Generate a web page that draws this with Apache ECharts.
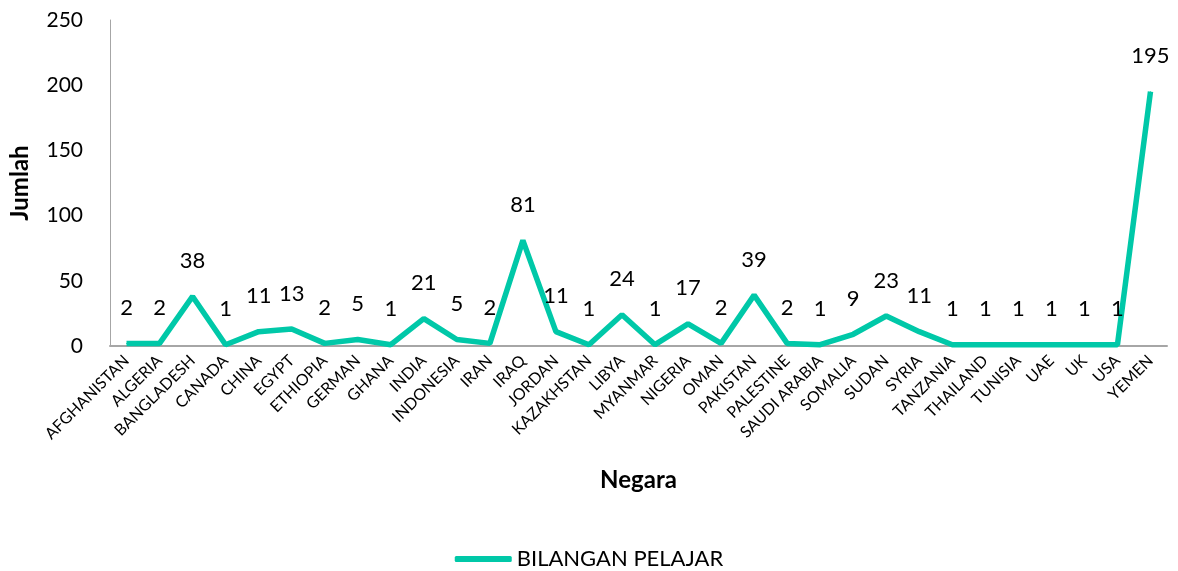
<!DOCTYPE html>
<html>
<head>
<meta charset="utf-8">
<script src="https://cdn.jsdelivr.net/npm/echarts@6/dist/echarts.min.js"></script>
<style>
  html, body { margin: 0; padding: 0; background: #fff; }
  .container { width: 1178px; height: 571px; }
</style>
</head>
<body>
<div class="container"></div>
<script>
const countries = ['AFGHANISTAN', 'ALGERIA', 'BANGLADESH', 'CANADA', 'CHINA', 'EGYPT', 'ETHIOPIA', 'GERMAN',
    'GHANA', 'INDIA', 'INDONESIA', 'IRAN', 'IRAQ', 'JORDAN', 'KAZAKHSTAN', 'LIBYA', 'MYANMAR', 'NIGERIA',
    'OMAN', 'PAKISTAN', 'PALESTINE', 'SAUDI ARABIA', 'SOMALIA', 'SUDAN', 'SYRIA', 'TANZANIA', 'THAILAND',
    'TUNISIA', 'UAE', 'UK', 'USA', 'YEMEN'];
const students = [2, 2, 38, 1, 11, 13, 2, 5, 1, 21, 5, 2, 81, 11, 1, 24, 1, 17, 2, 39, 2, 1, 9, 23, 11,
    1, 1, 1, 1, 1, 1, 195];
const seriesName = 'BILANGAN PELAJAR';

(function(){
    let myChart = echarts.init(document.querySelector('.container'));
    const font = 'Lato, "Open Sans", sans-serif';

    const option = {
        color: ['#00C8A8'],
        textStyle: { fontFamily: font },
        legend: {
            data: [seriesName],
            bottom: -4,
            left: 'center',
            itemWidth: 57,
            itemHeight: 6,
            itemGap: 6,
            icon: 'roundRect',
            textStyle: { color: '#000', fontSize: 22, fontFamily: font }
        },
        grid: {
            left: 110,
            right: 11,
            top: 20,
            bottom: 225
        },
        xAxis: {
            type: 'category',
            data: countries,
            name: 'Negara',
            nameLocation: 'middle',
            nameGap: 122,
            nameTextStyle: { color: '#000', fontSize: 24, fontWeight: 'bold', fontFamily: font },
            axisTick: { show: false },
            axisLine: { lineStyle: { color: '#A6A6A6', width: 2 } },
            axisLabel: {
                interval: 0,
                rotate: 45,
                color: '#000',
                fontSize: 16,
                margin: 12,
                fontFamily: font
            }
        },
        yAxis: {
            type: 'value',
            min: 0,
            max: 250,
            interval: 50,
            name: 'Jumlah',
            nameLocation: 'middle',
            nameGap: 78,
            nameTextStyle: { color: '#000', fontSize: 24, fontWeight: 'bold', fontFamily: font },
            axisLine: { show: true, lineStyle: { color: '#A6A6A6', width: 1 } },
            axisTick: { show: false },
            splitLine: { show: false },
            axisLabel: { color: '#000', fontSize: 21, margin: 27, fontFamily: font }
        },
        series: [
            {
                name: seriesName,
                type: 'line',
                data: students,
                symbol: 'circle',
                symbolSize: 1,
                lineStyle: { width: 5.5 },
                label: {
                    show: true,
                    position: 'top',
                    distance: 24,
                    color: '#000',
                    fontSize: 22,
                    fontFamily: font
                }
            }
        ]
    };

    myChart.setOption(option);
})();
</script>
</body>
</html>
